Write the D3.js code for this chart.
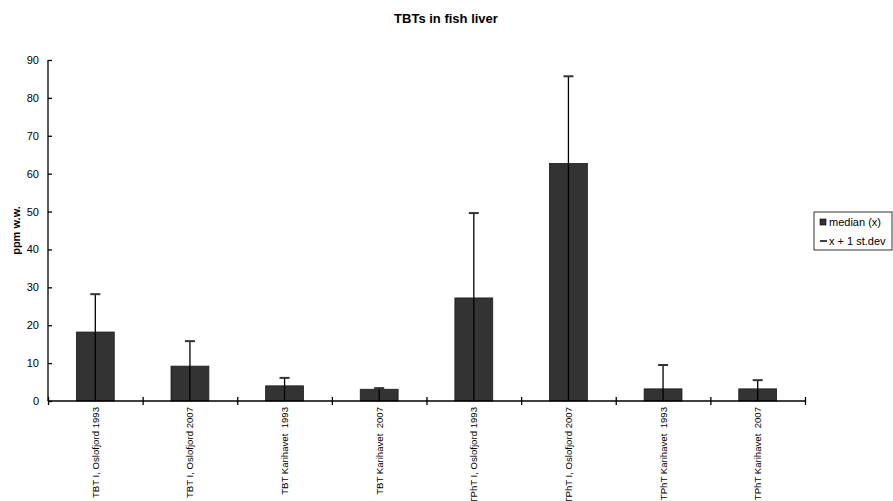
<!DOCTYPE html>
<html lang="en">
<head>
<meta charset="utf-8">
<title>TBTs in fish liver</title>
<script src="https://d3js.org/d3.v7.min.js"></script>
<style>
  body { margin: 0; background: #fff; }
  svg { font-family: "Liberation Sans", Arial, sans-serif; }
</style>
</head>
<body>
<script>
// data
var categories = ["TBT I, Oslofjord 1993", "TBT I, Oslofjord 2007", "TBT Karihavet  1993", "TBT Karihavet  2007",
                  "TPhT I, Oslofjord 1993", "TPhT I, Oslofjord 2007", "TPhT Karihavet  1993", "TPhT Karihavet  2007"];
var median = [18.2, 9.2, 4.0, 3.1, 27.2, 62.7, 3.2, 3.2];
var plusSd = [28.2, 15.8, 6.1, 3.4, 49.6, 85.7, 9.5, 5.5];
var yTicks = [0, 10, 20, 30, 40, 50, 60, 70, 80, 90];
var legendLabels = ["median (x)", "x + 1 st.dev"];

var w = 893, h = 501;
// plot area edges (note: "top" is reserved by window, so use other names)
var plotL = 48, plotR = 805, plotT = 60, plotB = 401;

var svg = d3.select("body").append("svg")
  .attr("width", w)
  .attr("height", h);

var x = d3.scaleBand().domain(categories).range([plotL, plotR]).paddingInner(0.6).paddingOuter(0.3);
var xEdge = d3.scaleLinear().domain([0, categories.length]).range([plotL, plotR]);
var y = d3.scaleLinear().domain([0, 90]).range([plotB, plotT]);

// title
svg.append("text")
  .attr("x", 446).attr("y", 23)
  .attr("text-anchor", "middle")
  .style("font-size", "13px").style("font-weight", "bold")
  .text("TBTs in fish liver");

// y axis title
svg.append("text")
  .attr("transform", "translate(20," + ((plotT + plotB) / 2) + ") rotate(-90)")
  .attr("text-anchor", "middle")
  .style("font-size", "11px").style("font-weight", "bold")
  .text("ppm w.w.");

// bars
svg.selectAll("rect.bar")
  .data(median)
  .enter().append("rect")
  .attr("class", "bar")
  .attr("x", function(d, i) { return x(categories[i]); })
  .attr("width", x.bandwidth())
  .attr("y", function(d) { return y(d); })
  .attr("height", function(d) { return y(0) - y(d); })
  .attr("fill", "#333333")
  .attr("stroke", "#1a1a1a")
  .attr("stroke-width", 0.8);

// error lines (x + 1 st.dev)
var err = svg.selectAll("g.err")
  .data(plusSd)
  .enter().append("g")
  .attr("class", "err")
  .attr("transform", function(d, i) { return "translate(" + (x(categories[i]) + x.bandwidth() / 2) + ",0)"; });

err.append("line")
  .attr("x1", 0).attr("x2", 0)
  .attr("y1", y(0))
  .attr("y2", function(d) { return y(d); })
  .attr("stroke", "#000").attr("stroke-width", 1.3);

err.append("line")
  .attr("x1", -5).attr("x2", 5)
  .attr("y1", function(d) { return y(d); })
  .attr("y2", function(d) { return y(d); })
  .attr("stroke", "#333").attr("stroke-width", 2);

// y axis
var yAxis = svg.append("g")
  .attr("transform", "translate(" + plotL + ",0)")
  .call(d3.axisLeft(y).tickValues(yTicks).tickSize(4).tickPadding(5));
yAxis.selectAll(".tick line").attr("x2", 4);
yAxis.select(".domain").attr("d", "M0," + plotT + "V" + plotB);
yAxis.selectAll("text").style("font-size", "11px").attr("fill", "#000");

// x axis with ticks at category edges
var xAxis = svg.append("g")
  .attr("transform", "translate(0," + plotB + ")")
  .call(d3.axisBottom(xEdge).ticks(categories.length).tickSize(4).tickFormat(""));
xAxis.selectAll(".tick line").attr("y1", -4);
xAxis.select(".domain").attr("d", "M" + plotL + ",0H" + plotR);
xAxis.selectAll("line, path").attr("stroke-width", 1.3);
yAxis.selectAll("line, path").attr("stroke-width", 1.3);

// x category labels
svg.selectAll("text.cat")
  .data(categories)
  .enter().append("text")
  .attr("class", "cat")
  .attr("transform", function(d) { return "translate(" + (x(d) + x.bandwidth() / 2 + 3.5) + "," + (plotB + 6) + ") rotate(-90)"; })
  .attr("text-anchor", "end")
  .style("font-size", "9.6px")
  .style("white-space", "pre")
  .text(function(d) { return d; });

// legend
var lg = svg.append("g").attr("transform", "translate(814,212)");
lg.append("rect")
  .attr("width", 78).attr("height", 38)
  .attr("fill", "#fff").attr("stroke", "#000").attr("stroke-width", 0.8);
lg.append("rect")
  .attr("x", 6).attr("y", 7).attr("width", 6).attr("height", 6)
  .attr("fill", "#333").attr("stroke", "#000").attr("stroke-width", 0.6);
lg.append("line")
  .attr("x1", 6).attr("x2", 13).attr("y1", 29).attr("y2", 29)
  .attr("stroke", "#000").attr("stroke-width", 1.5);
lg.selectAll("text.lg")
  .data(legendLabels)
  .enter().append("text")
  .attr("class", "lg")
  .attr("x", 15)
  .attr("y", function(d, i) { return 14 + i * 19; })
  .style("font-size", "11px")
  .text(function(d) { return d; });
</script>
</body>
</html>
